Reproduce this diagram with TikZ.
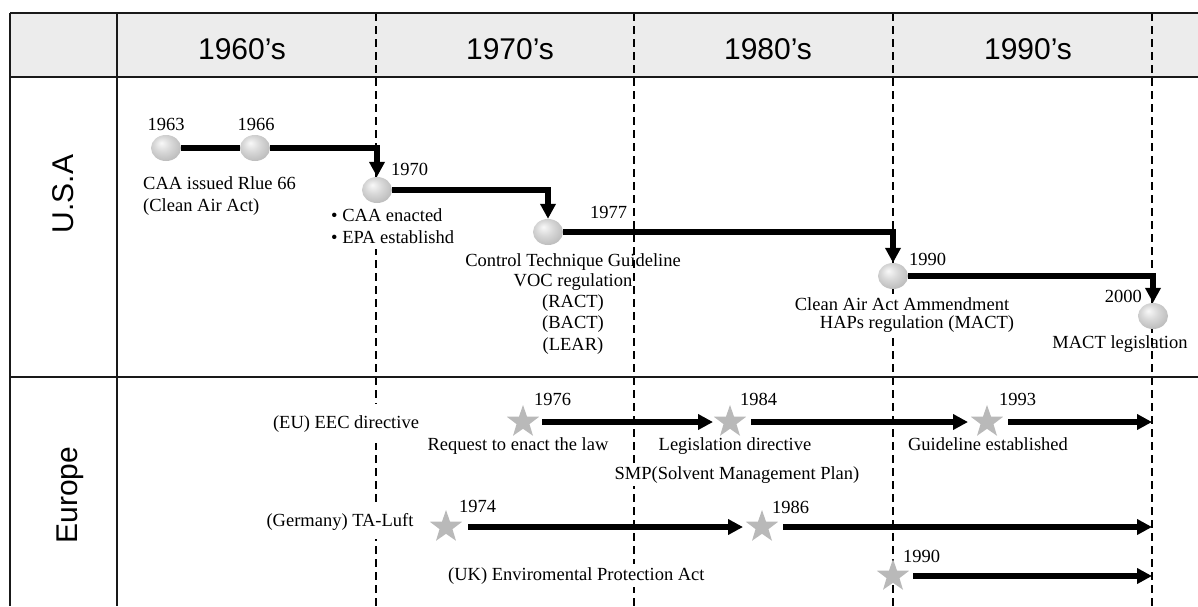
\documentclass[tikz,border=0pt]{standalone}
\usepackage{fontspec}
\setmainfont{Liberation Serif}
\setsansfont{Liberation Sans}
\usetikzlibrary{shapes.geometric,arrows.meta}
\pgfdeclareradialshading{myball}{\pgfpoint{-8bp}{10bp}}{color(0bp)=(gray!5); color(14bp)=(gray!30); color(36bp)=(gray!62); color(50bp)=(gray!75)}
\begin{document}
\begin{tikzpicture}[x=1pt,y=-1pt,
  frame/.style={line width=2.5pt,draw=black!90},
  dashline/.style={line width=1.2pt,dash pattern=on 8pt off 5pt},
  ballnode/.style={ellipse,minimum width=30pt,minimum height=26pt,inner sep=0pt,shading=myball},
  starnode/.style={star,star points=5,star point ratio=2.5,minimum size=34pt,inner sep=0pt,fill=gray!55},
  conn/.style={line width=6.5pt},
  arr/.style={line width=6.5pt,-{Triangle[length=15pt,width=15pt]}},
  lbl/.style={font=\fontsize{18.5}{21}\selectfont,inner xsep=1pt,inner ysep=3pt,fill=white},
  yr/.style={font=\fontsize{18.5}{21}\selectfont,inner sep=1pt},
  hdr/.style={font=\sffamily\fontsize{30}{36}\selectfont,inner sep=0pt},
]
\useasboundingbox (0,0) rectangle (1198,606);
% header fill
\fill[gray!15] (10,13) rectangle (1198,77);
% dashed decade lines
\foreach \xx in {376,634,893,1152} \draw[dashline] (\xx,13) -- (\xx,606);
% frame
\draw[frame] (10,13) -- (1198,13);
\draw[frame] (10,77) -- (1198,77);
\draw[frame] (10,377) -- (1198,377);
\draw[frame] (10,13) -- (10,606);
\draw[frame] (117,13) -- (117,606);
% header labels
\node[hdr,anchor=base] (h60) at (242,59) {1960’s};
\node[hdr,anchor=base] (h70) at (510,59) {1970’s};
\node[hdr,anchor=base] (h80) at (768,59) {1980’s};
\node[hdr,anchor=base] (h90) at (1028,59) {1990’s};
\node[hdr,anchor=base,rotate=90] (usa) at (73,194) {U.S.A};
\node[hdr,anchor=base,rotate=90] (eur) at (77,495) {Europe};
% USA labels
\node[yr,anchor=base] (y63) at (166,130) {1963};
\node[yr,anchor=base] (y66) at (256,130) {1966};
\node[lbl,anchor=base west] (t63a) at (142,189) {CAA issued Rlue 66};
\node[lbl,anchor=base west] (t63b) at (142,211) {(Clean Air Act)};
\node[yr,anchor=base west] (y70) at (390,175) {1970};
\node[lbl,anchor=base west] (t70a) at (330,221) {• CAA enacted};
\node[lbl,anchor=base west,inner ysep=6pt] (t70b) at (330,243) {• EPA establishd};
\node[yr,anchor=base west] (y77) at (589,218) {1977};
\node[yr,anchor=base] (t77a) at (573,266) {Control Technique Guideline};
\node[yr,anchor=base] (t77b) at (573,286) {VOC regulation};
\node[yr,anchor=base] (t77c) at (573,307) {(RACT)};
\node[yr,anchor=base] (t77d) at (573,328) {(BACT)};
\node[yr,anchor=base] (t77e) at (573,350) {(LEAR)};
\node[yr,anchor=base west] (y90) at (908,265) {1990};
\node[lbl,anchor=base] (t90a) at (902,310) {Clean Air Act Ammendment};
\node[lbl,anchor=base,inner ysep=5pt] (t90b) at (917,328) {HAPs regulation (MACT)};
\node[yr,anchor=base east] (y00) at (1143,302) {2000};
\node[yr,anchor=base] (t00) at (1120,348) {MACT legislation};
% USA balls
\node[ballnode] (b63) at (166,148) {};
\node[ballnode] (b66) at (255,148) {};
\node[ballnode] (b70) at (377,190) {};
\node[ballnode] (b77) at (548,232) {};
\node[ballnode] (b90) at (893,276) {};
\node[ballnode] (b00) at (1153,316) {};
\draw[conn] (b63.east) -- (b66.west);
\draw[arr] (b66.east) -| (b70.north);
\draw[arr] (b70.east) -| (b77.north);
\draw[arr] (b77.east) -| (b90.north);
\draw[arr] (b90.east) -| (b00.north);
% Europe labels
\node[lbl,anchor=base,inner ysep=11pt] (eu) at (346,428) {(EU) EEC directive};
\node[yr,anchor=base west] (y76) at (533,405) {1976};
\node[lbl,anchor=base] (t76) at (518,450) {Request to enact the law};
\node[yr,anchor=base west] (y84) at (739,405) {1984};
\node[lbl,anchor=base] (t84a) at (735,450) {Legislation directive};
\node[lbl,anchor=base] (t84b) at (737,479) {SMP(Solvent Management Plan)};
\node[yr,anchor=base west] (y93) at (998,405) {1993};
\node[lbl,anchor=base] (t93) at (988,450) {Guideline established};
\node[lbl,anchor=base,inner ysep=9pt] (de) at (340,526) {(Germany) TA-Luft};
\node[yr,anchor=base west] (y74) at (458,512) {1974};
\node[yr,anchor=base west] (y86) at (771,513) {1986};
\node[lbl,anchor=base west] (uk) at (447,580) {(UK) Enviromental Protection Act};
\node[yr,anchor=base west] (y90e) at (902,562) {1990};
% stars
\node[starnode] (s76) at (523,422) {};
\node[starnode] (s84) at (730,422) {};
\node[starnode] (s93) at (987,422) {};
\node[starnode] (s74) at (446,527) {};
\node[starnode] (s86) at (762,527) {};
\node[starnode] (s90) at (893,576) {};
\coordinate (e1) at (1152,422);
\coordinate (e2) at (1152,527);
\coordinate (e3) at (1152,576);
\draw[arr] ([xshift=19pt]s76.center) -- ([xshift=-17pt]s84.center);
\draw[arr] ([xshift=21pt]s84.center) -- ([xshift=-19pt]s93.center);
\draw[arr] ([xshift=21pt]s93.center) -- (e1);
\draw[arr] ([xshift=22pt]s74.center) -- ([xshift=-19pt]s86.center);
\draw[arr] ([xshift=21pt]s86.center) -- (e2);
\draw[arr] ([xshift=20pt]s90.center) -- (e3);
\end{tikzpicture}
\end{document}
